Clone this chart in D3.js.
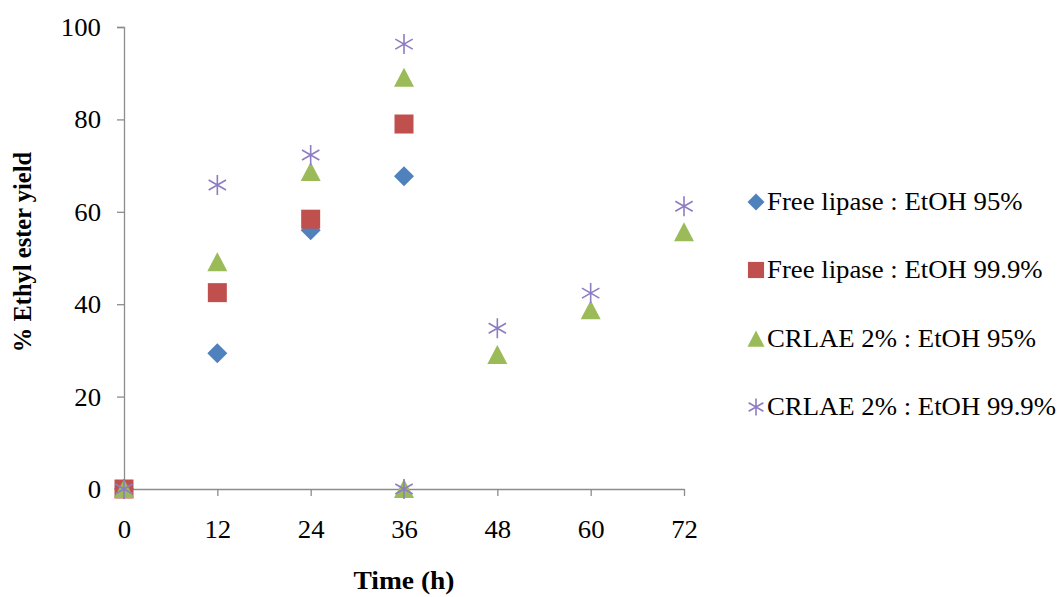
<!DOCTYPE html>
<html><head><meta charset="utf-8">
<script src="https://cdn.jsdelivr.net/npm/d3@7"></script>
<style>body{margin:0;background:#fff}</style>
</head><body>
<svg id="c" width="1061" height="597"></svg>
<script>
const seriesNames = ["Free lipase : EtOH 95%", "Free lipase : EtOH 99.9%", "CRLAE 2% : EtOH 95%", "CRLAE 2% : EtOH 99.9%"];
const freeLipase95 = [[0,0],[12,29.4],[24,56],[36,67.7]];
const freeLipase999 = [[0,0],[12,42.5],[24,58.4],[36,79]];
const crlae95 = [[0,0],[12,49.1],[24,68.6],[36,89],[36,0],[48,29],[60,38.7],[72,55.6]];
const crlae999 = [[0,0],[12,65.8],[24,72.3],[36,96.3],[36,0],[48,34.8],[60,42.4],[72,61.2]];
const xTicks = [0,12,24,36,48,60,72];
const yTicks = [0,20,40,60,80,100];
const colors = ["#4F81BD","#C0504D","#9BBB59","#8E7CC3"];
const shapes = ["diamond","square","triangle","star"];
const allSeries = [freeLipase95, freeLipase999, crlae95, crlae999];

const svg = d3.select("#c");
const x = d3.scaleLinear().domain([0,72]).range([124,684]);
const y = d3.scaleLinear().domain([0,100]).range([489,27]);
const font = "'Liberation Serif','Times New Roman',serif";
const axisColor = "#8c8c8c";
const fs = 25;

function stretch(sel, f) {
  sel.each(function(){
    const w = this.getComputedTextLength();
    d3.select(this).attr("textLength", w*f).attr("lengthAdjust","spacingAndGlyphs");
  });
}

// y axis
const ya = svg.append("g").attr("transform","translate(124,0)")
  .call(d3.axisLeft(y).tickValues(yTicks).tickSize(7).tickPadding(16));
ya.select(".domain").attr("stroke",axisColor).attr("stroke-width",1.3);
ya.selectAll(".tick line").attr("stroke",axisColor).attr("stroke-width",1.3);
ya.selectAll("text").attr("font-family",font).attr("font-size",fs).attr("fill","#000").attr("dy","0.34em");
stretch(ya.selectAll("text"), 1.07);

// x axis
const xa = svg.append("g").attr("transform","translate(0,489)")
  .call(d3.axisBottom(x).tickValues(xTicks).tickSize(7).tickPadding(24).tickSizeOuter(0));
xa.select(".domain").attr("stroke",axisColor).attr("stroke-width",1.3);
xa.selectAll(".tick line").attr("stroke",axisColor).attr("stroke-width",1.3);
xa.selectAll(".tick").filter(d=>d===0).select("line").remove();
xa.selectAll("text").attr("font-family",font).attr("font-size",fs).attr("fill","#000");
stretch(xa.selectAll("text"), 1.07);

function drawMarker(g, shape, color, cx, cy, k) {
  if (shape === "diamond") {
    g.append("path").attr("d",`M${cx},${cy-10*k}L${cx+10*k},${cy}L${cx},${cy+10*k}L${cx-10*k},${cy}Z`).attr("fill",color);
  } else if (shape === "square") {
    g.append("rect").attr("x",cx-9.5*k).attr("y",cy-9.5*k).attr("width",19*k).attr("height",19*k).attr("fill",color);
  } else if (shape === "triangle") {
    g.append("path").attr("d",`M${cx},${cy-10*k}L${cx+10*k},${cy+9*k}L${cx-10*k},${cy+9*k}Z`).attr("fill",color);
  } else {
    const r = 10*k;
    g.append("path").attr("d",
      `M${cx},${cy-r}L${cx},${cy+r}M${cx-r*0.87},${cy-r*0.5}L${cx+r*0.87},${cy+r*0.5}M${cx-r*0.87},${cy+r*0.5}L${cx+r*0.87},${cy-r*0.5}`)
      .attr("stroke",color).attr("stroke-width",1.6).attr("fill","none");
  }
}

allSeries.forEach((data,i) => {
  const g = svg.append("g");
  data.forEach(d => drawMarker(g, shapes[i], colors[i], x(d[0]), y(d[1]), 1));
});

// legend
const legBase = [210, 278, 347, 415];
seriesNames.forEach((n,i) => {
  const g = svg.append("g");
  drawMarker(g, shapes[i], colors[i], 756, legBase[i]-8, 0.85);
  const t = g.append("text").attr("x",767).attr("y",legBase[i]).attr("font-family",font)
    .attr("font-size",fs).attr("fill","#000").text(n);
  stretch(t, 1.07);
});

// axis titles
const tx = svg.append("text").attr("x",404).attr("y",589).attr("text-anchor","middle")
  .attr("font-family",font).attr("font-size",fs).attr("font-weight","bold").text("Time (h)");
stretch(tx, 1.1);
svg.append("text").attr("transform","translate(31,252) rotate(-90)").attr("text-anchor","middle")
  .attr("font-family",font).attr("font-size",24.5).attr("font-weight","bold").text("% Ethyl ester yield");
</script>
</body></html>
